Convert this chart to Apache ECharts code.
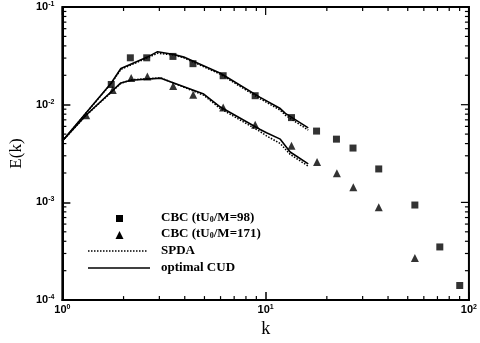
<!DOCTYPE html>
<html><head><meta charset="utf-8">
<script src="https://cdn.jsdelivr.net/npm/echarts@6/dist/echarts.min.js"></script>
<style>html,body{margin:0;padding:0;background:#fff}#c{width:480px;height:343px}</style>
</head><body><div id="c"></div>
<script>
// CBC measurements
const cbc98K = [1.74, 2.16, 2.60, 3.50, 4.39, 6.18, 8.88, 13.4, 17.8, 22.3, 26.9, 36.0, 54.2, 71.9, 90.1];
const cbc98E = [0.0161, 0.0302, 0.0302, 0.0312, 0.0263, 0.0198, 0.01236, 0.00738, 0.00537, 0.00444, 0.00360, 0.00220, 0.00094, 0.00035, 0.000141];
const cbc171K = [1.31, 1.77, 2.18, 2.62, 3.51, 4.40, 6.18, 8.88, 13.4, 17.9, 22.4, 27.0, 36.0, 54.2];
const cbc171E = [0.0078, 0.01416, 0.01873, 0.01947, 0.01551, 0.01264, 0.00934, 0.00625, 0.00381, 0.00259, 0.00199, 0.00143, 0.00089, 0.000269];
// optimal CUD curves
const cudAK = [1, 1.74, 1.94, 2.62, 2.94, 3.54, 3.96, 5.99, 9.40, 11.8, 12.5, 16.2];
const cudAE = [0.00425, 0.0167, 0.0235, 0.0307, 0.0349, 0.0326, 0.0307, 0.0210, 0.01189, 0.00913, 0.00815, 0.00579];
const cudBK = [1, 1.31, 1.94, 2.175, 3.05, 4.96, 5.99, 9.40, 10.1, 11.8, 13.2, 16.2];
const cudBE = [0.00425, 0.00784, 0.0167, 0.0178, 0.0187, 0.01285, 0.00947, 0.00557, 0.00517, 0.00444, 0.00328, 0.00248];
// SPDA curves
const spdaAK = [1, 1.74, 1.94, 2.62, 2.94, 3.54, 3.96, 5.99, 9.40, 11.8, 12.5, 16.2];
const spdaAE = [0.00425, 0.0165, 0.0230, 0.0302, 0.0336, 0.0322, 0.0302, 0.0205, 0.0115, 0.0088, 0.0078, 0.0055];
const spdaBK = [1, 1.31, 1.94, 2.175, 3.05, 4.96, 5.99, 9.40, 10.1, 11.8, 13.2, 16.2];
const spdaBE = [0.00425, 0.0078, 0.0165, 0.0180, 0.0188, 0.0125, 0.0091, 0.0053, 0.0048, 0.0040, 0.0031, 0.00235];
// tick values
const xMinorTicks = [2,3,4,5,6,7,8,9,20,30,40,50,60,70,80,90];
const xMajorTicks = [1,10,100];
const yMinorTicks = [0.0002,0.0003,0.0004,0.0005,0.0006,0.0007,0.0008,0.0009,0.002,0.003,0.004,0.005,0.006,0.007,0.008,0.009,0.02,0.03,0.04,0.05,0.06,0.07,0.08,0.09];
const yMajorTicks = [0.0001,0.001,0.01,0.1];
const legendLabels = ['CBC (tU{sub|0}/M=98)', 'CBC (tU{sub|0}/M=171)', 'SPDA', 'optimal CUD'];

const zip = (a, b) => a.map((v, i) => [v, b[i]]);
const expOf = v => Math.round(Math.log10(v));

const chart = echarts.init(document.getElementById('c'), null, {renderer: 'canvas'});

const tickData = [];
xMinorTicks.forEach(v => tickData.push(['x', v, 4]));
xMajorTicks.forEach(v => tickData.push(['xt', v, 8]));
yMinorTicks.forEach(v => tickData.push(['y', v, 4]));
yMajorTicks.forEach(v => tickData.push(['yr', v, 8]));

const labelRich = {
  b: {fontFamily: 'Liberation Sans', fontWeight: 'bold', fontSize: 11, color: '#000'},
  sup: {fontFamily: 'Liberation Sans', fontWeight: 'bold', fontSize: 7, color: '#000', verticalAlign: 'top', padding: [0,0,6,0]}
};

chart.setOption({
  animation: false,
  grid: {left: 61, right: 10, top: 7, bottom: 33, show: true, borderColor: '#000', borderWidth: 2, backgroundColor: 'transparent'},
  xAxis: {
    type: 'log', logBase: 10, min: 1, max: 100,
    name: 'k', nameLocation: 'middle', nameGap: 19,
    nameTextStyle: {fontFamily: 'Liberation Serif', fontSize: 18, color: '#000'},
    axisLine: {lineStyle: {color: '#000', width: 2}},
    axisTick: {inside: true, length: 8, lineStyle: {color: '#000', width: 1.5}},
    axisLabel: {margin: 3, formatter: v => '{b|10}{sup|' + expOf(v) + '}', rich: labelRich},
    splitLine: {show: false}, minorTick: {show: false}
  },
  yAxis: {
    type: 'log', logBase: 10, min: 0.0001, max: 0.1,
    name: 'E(k)', nameLocation: 'middle', nameGap: 26,
    nameTextStyle: {fontFamily: 'Liberation Serif', fontSize: 17, color: '#000'},
    axisLine: {lineStyle: {color: '#000', width: 2}},
    axisTick: {inside: true, length: 8, lineStyle: {color: '#000', width: 1.5}},
    axisLabel: {margin: 8, formatter: v => '{b|10}{sup|' + expOf(v) + '}', rich: labelRich},
    splitLine: {show: false}, minorTick: {show: false}
  },
  series: [
    {name: 'ticks', type: 'custom', silent: true, z: 1,
      data: tickData,
      encode: {x: -1, y: -1},
      renderItem: function (params, api) {
        const kind = api.value(0), v = api.value(1), len = api.value(2);
        const lines = [];
        const st = {stroke: '#000', lineWidth: 1.2};
        if (kind === 'x' || kind === 'xt') {
          const b = api.coord([v, 0.0001]), t = api.coord([v, 0.1]);
          if (kind === 'x') lines.push({type: 'line', shape: {x1: b[0], y1: b[1], x2: b[0], y2: b[1] - len}, style: st});
          lines.push({type: 'line', shape: {x1: t[0], y1: t[1], x2: t[0], y2: t[1] + len}, style: st});
        } else {
          const l = api.coord([1, v]), r = api.coord([100, v]);
          if (kind === 'y') lines.push({type: 'line', shape: {x1: l[0], y1: l[1], x2: l[0] + len, y2: l[1]}, style: st});
          lines.push({type: 'line', shape: {x1: r[0], y1: r[1], x2: r[0] - len, y2: r[1]}, style: st});
        }
        return {type: 'group', children: lines};
      }
    },
    {name: 'SPDA', type: 'line', data: zip(spdaAK, spdaAE), symbol: 'none', lineStyle: {color: '#000', width: 1.5, type: 'dotted'}, z: 2},
    {name: 'SPDA', type: 'line', data: zip(spdaBK, spdaBE), symbol: 'none', lineStyle: {color: '#000', width: 1.5, type: 'dotted'}, z: 2},
    {name: 'optimal CUD', type: 'line', data: zip(cudAK, cudAE), symbol: 'none', lineStyle: {color: '#000', width: 1.6}, z: 3},
    {name: 'optimal CUD', type: 'line', data: zip(cudBK, cudBE), symbol: 'none', lineStyle: {color: '#000', width: 1.6}, z: 3},
    {name: 'cbc98', type: 'scatter', data: zip(cbc98K, cbc98E), symbol: 'rect', symbolSize: 7, itemStyle: {color: '#000'}, z: 4},
    {name: 'cbc171', type: 'scatter', data: zip(cbc171K, cbc171E), symbol: 'triangle', symbolSize: 8, itemStyle: {color: '#000'}, z: 4}
  ],
  graphic: [
    {type: 'rect', left: 116, top: 215, shape: {width: 7, height: 7}, style: {fill: '#000'}},
    {type: 'polygon', shape: {points: [[119.5, 231], [115.5, 239], [123.5, 239]]}, style: {fill: '#000'}},
    {type: 'line', shape: {x1: 88, y1: 251, x2: 148, y2: 251}, style: {stroke: '#000', lineWidth: 1.5, lineDash: [1.5, 1.5]}},
    {type: 'line', shape: {x1: 88, y1: 268, x2: 150, y2: 268}, style: {stroke: '#000', lineWidth: 1.6}},
    ...legendLabels.map((t, i) => ({
      type: 'text', left: 161, top: [211, 227, 244, 261][i],
      style: {text: t, fontFamily: 'Liberation Serif', fontWeight: 'bold', fontSize: 13, fill: '#000',
        rich: {sub: {fontFamily: 'Liberation Serif', fontWeight: 'bold', fontSize: 8, verticalAlign: 'bottom', padding: [5,0,0,0]}}}
    }))
  ]
});
</script></body></html>
